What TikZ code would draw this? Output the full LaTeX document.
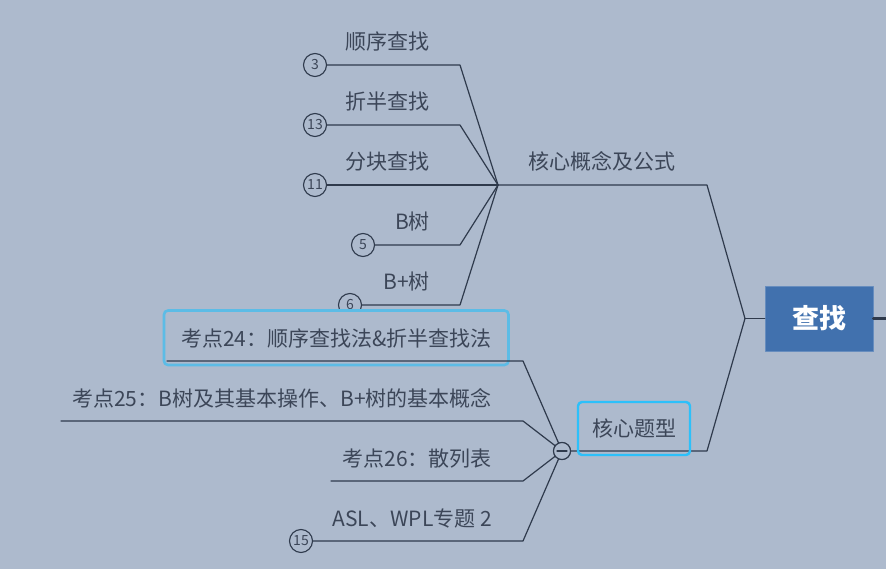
\documentclass[tikz,border=0pt]{standalone}
\usepackage{fontspec}
\setmainfont{Noto Sans CJK SC}
\usetikzlibrary{positioning,calc}
\definecolor{bg}{HTML}{ADBACD}
\definecolor{ink}{HTML}{2F3A4C}
\definecolor{txt}{HTML}{3C4658}
\definecolor{rootfill}{HTML}{4171AE}
\definecolor{sel}{HTML}{5CBCE6}
\definecolor{sel2}{HTML}{2CC0FA}
\tikzset{
  every picture/.style={line cap=round, line join=round},
  branch/.style={draw=ink, line width=1.2pt},
  topic/.style={font=\fontsize{21}{24}\selectfont, text=txt, inner sep=0pt, anchor=base east},
  badge/.style={circle, draw=ink, fill=bg, line width=1.1pt, minimum size=23pt, inner sep=0pt,
    font=\fontsize{14}{14}\selectfont, text=txt},
  rootbox/.style={fill=rootfill, draw=rootfill!80!white, minimum width=108pt, minimum height=65pt,
    inner sep=0pt, text=white, font=\fontsize{27}{30}\selectfont\bfseries},
  selbox/.style={draw=sel, fill=bg, line width=2.6pt, rounded corners=4pt},
  collapse/.style={circle, draw=ink, fill=bg, line width=1.1pt, minimum size=17pt, inner sep=0pt}
}
\begin{document}
\begin{tikzpicture}[x=1pt, y=-1pt]
  \fill[bg] (0,0) rectangle (886,569);
  \useasboundingbox (0,0) rectangle (886,569);

  % Root
  \node[rootbox] (root) at (819,318.5) {查找};
  \coordinate (rootout) at (886,318.5);
  \draw[branch, line width=2.4pt] (root.east) -- (rootout);
  \coordinate (hub) at (745,318.5);
  \draw[branch] (root.west) -- (hub);

  % Main branches
  \coordinate (k1) at (707,185);
  \coordinate (k2) at (707,451);
  \coordinate (fan1) at (498,185);
  \node[collapse] (fan2) at (562,451) {};
  \draw[branch] (fan1) -- (k1) -- (hub) -- (k2) -- (fan2.east);
  \node[topic] (concept) at (676,170) {核心概念及公式};

  % Leaves of the first branch
  \coordinate (e3) at (460,65);
  \coordinate (e13) at (460,125);
  \coordinate (e11) at (460,185);
  \coordinate (e5) at (460,245);
  \coordinate (e6) at (460,305);
  \node[badge] (b3) at (315,65) {3};
  \node[badge] (b13) at (315,125) {13};
  \node[badge] (b11) at (315,185) {11};
  \node[badge] (b5) at (363,245) {5};
  \node[badge] (b6) at (350,305) {6};
  \draw[branch] (b3.east) -- (e3) -- (fan1);
  \draw[branch] (b13.east) -- (e13) -- (fan1);
  \draw[branch] (b11.east) -- (fan1);
  \draw[branch] (b5.east) -- (e5) -- (fan1);
  \draw[branch] (b6.east) -- (e6) -- (fan1);
  \node[topic] (seq) at (430,50) {顺序查找};
  \node[topic] (bin) at (430,110) {折半查找};
  \node[topic] (blk) at (430,170) {分块查找};
  \node[topic] (btree) at (430,230) {B树};
  \node[topic] (bptree) at (430,290) {B+树};

  % Leaves of the second branch
  \draw[selbox] (164,310.5) rectangle (508.5,365);
  \coordinate (e24) at (523,361);
  \coordinate (e25) at (523,421);
  \coordinate (e26) at (523,481);
  \coordinate (e15) at (523,541);
  \coordinate (l24) at (167,361);
  \coordinate (l25) at (61,421);
  \coordinate (l26) at (331,481);
  \node[badge] (b15) at (301,541) {15};
  \draw[branch] (l24) -- (e24) -- (fan2.center);
  \draw[branch] (l25) -- (e25) -- (fan2.center);
  \draw[branch] (l26) -- (e26) -- (fan2.center);
  \draw[branch] (b15.east) -- (e15) -- (fan2.center);
  \node[collapse] (fold) at (fan2) {};
  \draw[ink, line width=1.2pt] ($(fold)+(-5,0)$) -- ($(fold)+(5,0)$);
  \node[topic] (p24) at (492,346) {考点24：顺序查找法\&折半查找法};
  \node[topic] (p25) at (492,406) {考点25：B树及其基本操作、B+树的基本概念};
  \node[topic] (p26) at (492,466) {考点26：散列表};
  \node[topic] (p15) at (492,526) {ASL、WPL专题 2};

  % Question types
  \node[selbox, draw=sel2, minimum width=112pt, minimum height=53pt, line width=2.4pt,
    font=\fontsize{21}{24}\selectfont, text=txt, fill=none] (types) at (634,428.5) {核心题型};
\end{tikzpicture}
\end{document}
